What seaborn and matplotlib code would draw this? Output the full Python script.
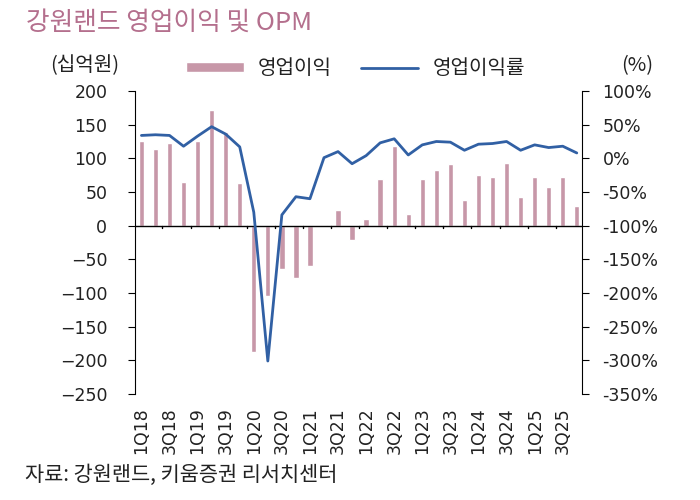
import numpy as np
import pandas as pd
import seaborn as sns
import matplotlib.pyplot as plt
from matplotlib.ticker import FuncFormatter

sns.set_style('white')
plt.rcParams['font.family'] = ['Noto Sans CJK KR', 'DejaVu Sans']
plt.rcParams['axes.unicode_minus'] = True

# 분기
quarters = [f'{q}Q{y}' for y in range(18, 26) for q in range(1, 5)]

# 영업이익 (십억원)
op_profit = [125, 114, 123, 65, 125, 172, 139, 63,
             -188, -105, -65, -77, -60, 1, 24, -21,
             10, 69, 118, 17, 69, 82, 91, 38,
             75, 73, 93, 42, 73, 57, 72, 29]

# 영업이익률 (%)
opm = [34, 35, 34, 18, 33, 47, 36, 17,
       -80, -301, -84, -57, -60, 1, 10, -8,
       4, 23, 29, 5, 20, 25, 24, 12,
       21, 22, 25, 12, 20, 16, 18, 8]

left_ticks = [200, 150, 100, 50, 0, -50, -100, -150, -200, -250]
right_ticks = [100, 50, 0, -50, -100, -150, -200, -250, -300, -350]

bar_color = '#C797A8'
line_color = '#3160A4'
title_color = '#B46F8D'
text_color = '#222222'

df = pd.DataFrame({'quarter': quarters, 'op': op_profit, 'opm': opm})
df['pos'] = np.arange(len(df))

fig = plt.figure(figsize=(7, 5), dpi=100)
ax = fig.add_axes([0.193, 0.212, 0.638, 0.606])

sns.barplot(data=df, x='quarter', y='op', color=bar_color, width=0.38,
            saturation=1, ax=ax, label='영업이익')
ax.axhline(0, color='black', lw=1, zorder=1)

ax2 = ax.twinx()
sns.lineplot(data=df, x='pos', y='opm', color=line_color, lw=2, ax=ax2,
             label='영업이익률', legend=False)

ax.set_ylim(-250, 200)
ax2.set_ylim(-350, 100)
ax.set_xlim(-0.45, len(df) - 0.65)

ax.set_yticks(left_ticks)
ax2.set_yticks(right_ticks)
ax2.yaxis.set_major_formatter(FuncFormatter(lambda v, p: f'{int(v)}%'))

# x 라벨은 2분기마다
ax.set_xticks(df['pos'][::2])
ax.set_xticklabels(df['quarter'][::2], rotation=90)
ax.tick_params(axis='x', which='major', length=0, pad=9.5, labelsize=12.5,
               labelcolor=text_color)

ax.set_xlabel('')
ax.set_ylabel('')
ax2.set_xlabel('')
ax2.set_ylabel('')

for a in (ax, ax2):
    for s in ['top', 'bottom']:
        a.spines[s].set_visible(False)
ax.spines['right'].set_visible(False)
ax2.spines['left'].set_visible(False)
ax.spines['left'].set_color('black')
ax2.spines['right'].set_color('black')

ax.tick_params(axis='y', left=True, length=5, direction='out', labelsize=12.5,
               colors='black', labelcolor=text_color, pad=15)
ax2.tick_params(axis='y', right=True, length=5, direction='out', labelsize=12.5,
                colors='black', labelcolor=text_color, pad=10)

for lab in ax.get_xticklabels() + ax.get_yticklabels() + ax2.get_yticklabels():
    lab.set_fontfamily('DejaVu Sans')

# x축(0선) 눈금
for xv in np.arange(1.5, len(df) - 1, 2):
    ax.plot([xv, xv], [0, -4], color='black', lw=1, clip_on=False, zorder=2)

ax.set_zorder(ax2.get_zorder() - 1)
ax2.patch.set_visible(False)
ax.patch.set_visible(False)

# 범례
h1, l1 = ax.get_legend_handles_labels()
h2, l2 = ax2.get_legend_handles_labels()
if ax.get_legend() is not None:
    ax.get_legend().remove()
fig.legend(h1 + h2, l1 + l2, loc='center', bbox_to_anchor=(0.508, 0.862), ncol=2,
           frameon=False, handlelength=2.85, handleheight=0.4, columnspacing=1.45,
           handletextpad=0.7, fontsize=14.5, labelcolor=text_color)

fig.text(0.071, 0.868, '(십억원)', fontsize=14.5, va='center', color=text_color)
fig.text(0.888, 0.868, '(%)', fontsize=14.5, va='center', color=text_color)
fig.text(0.037, 0.955, '강원랜드 영업이익 및 OPM', fontsize=18.5, va='center',
         color=title_color)
fig.text(0.035, 0.05, '자료: 강원랜드, 키움증권 리서치센터', fontsize=15,
         va='center', color=text_color)

fig.savefig('out.png', dpi=100)
